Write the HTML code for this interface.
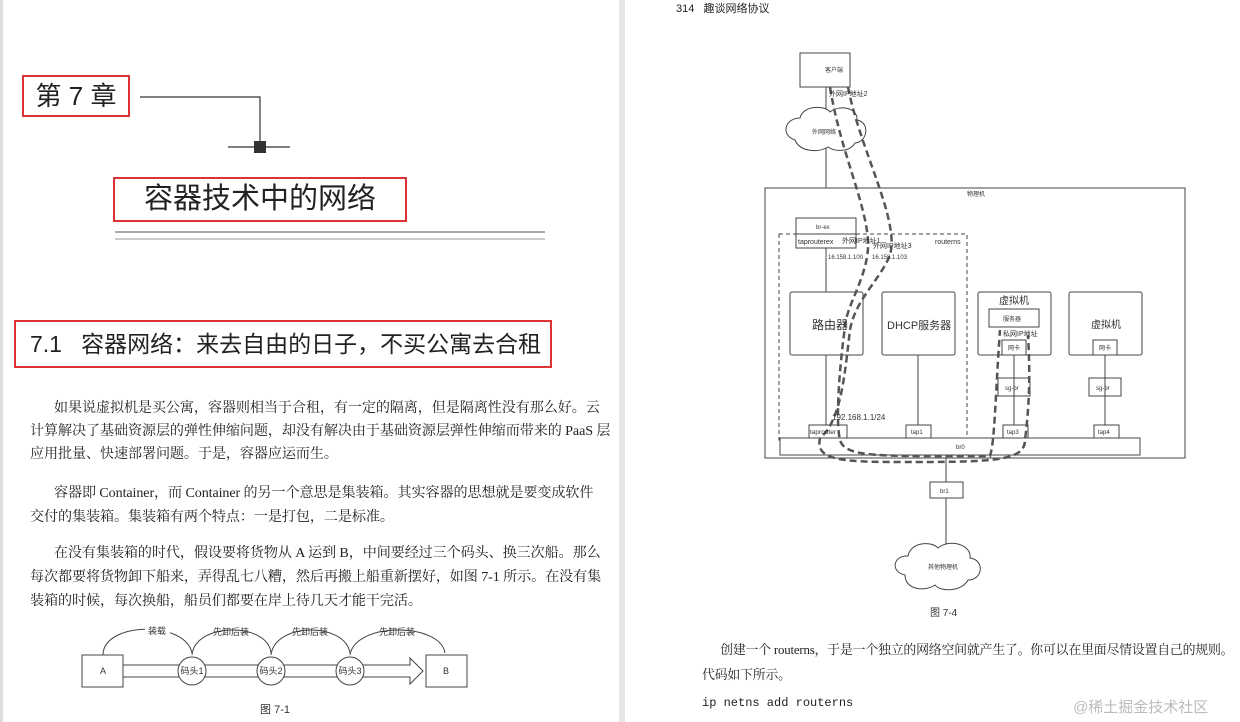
<!DOCTYPE html>
<html><head><meta charset="utf-8"><style>
body{margin:0;width:1240px;height:722px;overflow:hidden;background:#fff;font-family:"Liberation Serif","Noto Serif CJK SC",serif;color:#222;position:relative}
.a{position:absolute;white-space:nowrap}
.p{font-size:14.1px;left:30px;letter-spacing:-0.1px}
.s{font-family:"Liberation Sans","Noto Sans CJK SC",sans-serif}
</style></head><body>
<div class="a" style="left:619px;top:0;width:6px;height:722px;background:#e6e6e6"></div>
<div class="a" style="left:0;top:0;width:3px;height:722px;background:#ddd"></div>
<!-- left page -->
<div class="a s" style="left:22px;top:75px;width:104px;height:38px;border:2px solid #d33;font-size:26px;line-height:38px;text-align:center">第 7 章</div>
<svg class="a" style="left:0;top:0" width="620" height="722">
<polyline points="140,97 260,97 260,147" fill="none" stroke="#333" stroke-width="1.2"/>
<rect x="254" y="141" width="12" height="12" fill="#333"/>
<line x1="228" y1="147" x2="290" y2="147" stroke="#333" stroke-width="1.2"/>
<line x1="115" y1="232" x2="545" y2="232" stroke="#555"/>
<line x1="115" y1="239" x2="545" y2="239" stroke="#999"/>
</svg>
<div class="a s" style="left:113px;top:177px;width:290px;height:41px;border:2px solid #d33;font-size:29px;line-height:41px;text-align:center">容器技术中的网络</div>
<div class="a s" style="left:14px;top:320px;width:534px;height:44px;border:2px solid #d33;font-size:23px;line-height:44px;padding-left:0;text-indent:14px">7.1&nbsp;&nbsp; 容器网络：来去自由的日子，不买公寓去合租</div>
<div class="a p" style="top:397px;line-height:23px">&nbsp;&nbsp;&nbsp;&nbsp;&nbsp;&nbsp;&nbsp;如果说虚拟机是买公寓，容器则相当于合租，有一定的隔离，但是隔离性没有那么好。云<br>计算解决了基础资源层的弹性伸缩问题，却没有解决由于基础资源层弹性伸缩而带来的 PaaS 层<br>应用批量、快速部署问题。于是，容器应运而生。</div>
<div class="a p" style="top:481px;line-height:24px">&nbsp;&nbsp;&nbsp;&nbsp;&nbsp;&nbsp;&nbsp;容器即 Container，而 Container 的另一个意思是集装箱。其实容器的思想就是要变成软件<br>交付的集装箱。集装箱有两个特点：一是打包，二是标准。</div>
<div class="a p" style="top:541px;line-height:24px">&nbsp;&nbsp;&nbsp;&nbsp;&nbsp;&nbsp;&nbsp;在没有集装箱的时代，假设要将货物从 A 运到 B，中间要经过三个码头、换三次船。那么<br>每次都要将货物卸下船来，弄得乱七八糟，然后再搬上船重新摆好，如图 7-1 所示。在没有集<br>装箱的时候，每次换船，船员们都要在岸上待几天才能干完活。</div>
<svg class="a" style="left:0;top:610px;font-family:'Liberation Sans','Noto Sans CJK SC',sans-serif" width="620" height="112">
<g fill="none" stroke="#444" stroke-width="1">
<rect x="82" y="45" width="41" height="32" fill="#fff"/>
<rect x="426" y="45" width="41" height="32" fill="#fff"/>
<path d="M123,55 H410 V48 L423,61 410,74 V67 H123 Z" fill="#fff"/>
<circle cx="192" cy="61" r="14" fill="#fff"/><circle cx="271" cy="61" r="14" fill="#fff"/><circle cx="350" cy="61" r="14" fill="#fff"/>
<path d="M103,45 C103,12 185,10 192,43"/><path d="M192,45 C195,12 268,12 271,43"/><path d="M271,45 C275,12 345,12 350,43"/><path d="M350,45 C355,12 440,12 445,43"/>
</g>
<g font-size="9" fill="#333" text-anchor="middle">
<text x="103" y="64">A</text><text x="446" y="64">B</text>
<text x="192" y="64">码头1</text><text x="271" y="64">码头2</text><text x="350" y="64">码头3</text>
<rect x="145" y="16" width="25" height="10" fill="#fff"/><text x="157" y="24">装载</text>
<text x="231" y="25">先卸后装</text><text x="310" y="25">先卸后装</text><text x="397" y="25">先卸后装</text>
<text x="275" y="103" font-size="11">图 7-1</text></g>
</svg>
<!-- right page -->
<div class="a s" style="left:676px;top:0;font-size:11px">314&nbsp;&nbsp; 趣谈网络协议</div>
<svg class="a" style="left:0;top:0;font-family:'Liberation Sans','Noto Sans CJK SC',sans-serif" width="1240" height="722">
<g fill="none" stroke="#444" stroke-width="1">
<rect x="800" y="53" width="50" height="34" fill="#fff"/>
<line x1="826" y1="87" x2="826" y2="188"/>
<path d="M795,140 C780,135 785,118 800,118 C803,105 825,105 830,112 C840,104 858,108 857,120 C870,122 868,142 855,143 C850,152 835,152 828,147 C818,153 800,152 795,140 Z" fill="#fff"/>
<rect x="765" y="188" width="420" height="270"/>
<rect x="796" y="218" width="60" height="16"/><rect x="796" y="234" width="60" height="14"/>
<line x1="826" y1="248" x2="826" y2="292"/>
<rect x="779" y="234" width="188" height="206" stroke-dasharray="4,3"/>
<rect x="790" y="292" width="73" height="63" rx="2"/>
<rect x="882" y="292" width="73" height="63" rx="2"/>
<rect x="978" y="292" width="73" height="63" rx="2"/>
<rect x="1069" y="292" width="73" height="63" rx="2"/>
<rect x="989" y="309" width="50" height="18"/>
<rect x="1002" y="340" width="24" height="15"/><rect x="1093" y="340" width="24" height="15"/>
<rect x="998" y="378" width="32" height="18"/><rect x="1089" y="378" width="32" height="18"/>
<line x1="1014" y1="355" x2="1014" y2="425"/><line x1="1105" y1="355" x2="1105" y2="425"/>
<line x1="826" y1="355" x2="826" y2="425"/><line x1="918" y1="355" x2="918" y2="425"/>
<rect x="809" y="425" width="38" height="13"/><rect x="906" y="425" width="25" height="13"/>
<rect x="1003" y="425" width="25" height="13"/><rect x="1094" y="425" width="25" height="13"/>
<rect x="780" y="438" width="360" height="17" fill="#fff"/>
<line x1="946" y1="455" x2="946" y2="482"/>
<rect x="930" y="482" width="33" height="16"/>
<line x1="946" y1="498" x2="946" y2="545"/>
<path d="M905,575 C890,572 893,555 908,556 C910,543 930,540 938,548 C950,538 972,545 970,558 C985,560 983,580 968,580 C962,592 940,592 935,585 C925,592 905,590 905,575 Z" fill="#fff"/>
</g>
<g fill="none" stroke="#555" stroke-width="2.5" stroke-dasharray="7,4">
<path d="M830,87 C840,150 865,200 868,240 C870,270 850,300 846,320 C840,360 835,420 840,440 C845,458 880,456 990,456 C995,440 995,400 1000,330"/>
<path d="M848,87 C860,150 900,220 890,255 C880,280 855,300 850,330 C845,370 842,420 820,438 C815,460 840,462 900,462 C990,462 1025,462 1025,440 C1030,400 1030,370 1028,335"/>
</g>
<g font-size="7" fill="#333">
<text x="825" y="72" font-size="6">客户端</text>
<text x="829" y="96">外网IP地址2</text>
<text x="812" y="134" font-size="6">外网网络</text>
<text x="967" y="196" font-size="6">物理机</text>
<text x="816" y="229" font-size="6">br-ex</text>
<text x="798" y="244">taprouterex</text><text x="842" y="243">外网IP地址1</text>
<text x="873" y="248">外网IP地址3</text>
<text x="935" y="244">routerns</text>
<text x="828" y="259" font-size="6">16.158.1.100</text><text x="872" y="259" font-size="6">16.158.1.103</text>
<text x="812" y="329" font-size="12">路由器</text>
<text x="887" y="329" font-size="11">DHCP服务器</text>
<text x="999" y="304" font-size="10">虚拟机</text>
<text x="1091" y="328" font-size="10">虚拟机</text>
<text x="1003" y="321" font-size="6">服务器</text>
<text x="1003" y="336">私网IP地址</text>
<text x="1008" y="350" font-size="6">网卡</text><text x="1099" y="350" font-size="6">网卡</text>
<text x="1005" y="390" font-size="6">sg-br</text><text x="1096" y="390" font-size="6">sg-br</text>
<text x="832" y="420" font-size="8">192.168.1.1/24</text>
<text x="810" y="434" font-size="6.5">taprouter</text><text x="911" y="434" font-size="6">tap1</text>
<text x="1007" y="434" font-size="6">tap3</text><text x="1098" y="434" font-size="6">tap4</text>
<text x="956" y="449" font-size="6">br0</text><text x="940" y="493" font-size="6">br1</text>
<text x="928" y="569" font-size="6">其他物理机</text>
<text x="930" y="616" font-size="10">图 7-4</text>
</g>
</svg>
<div class="a" style="left:702px;top:638px;font-size:12.9px;letter-spacing:-0.2px;line-height:25px">&nbsp;&nbsp;&nbsp;&nbsp;&nbsp;&nbsp;创建一个 routerns，于是一个独立的网络空间就产生了。你可以在里面尽情设置自己的规则。<br>代码如下所示。</div>
<div class="a" style="left:702px;top:696px;font-size:12px;font-family:'Liberation Mono',monospace">ip netns add routerns</div>
<div class="a s" style="left:1073px;top:696px;font-size:15px;color:#bbb">@稀土掘金技术社区</div>
</body></html>
